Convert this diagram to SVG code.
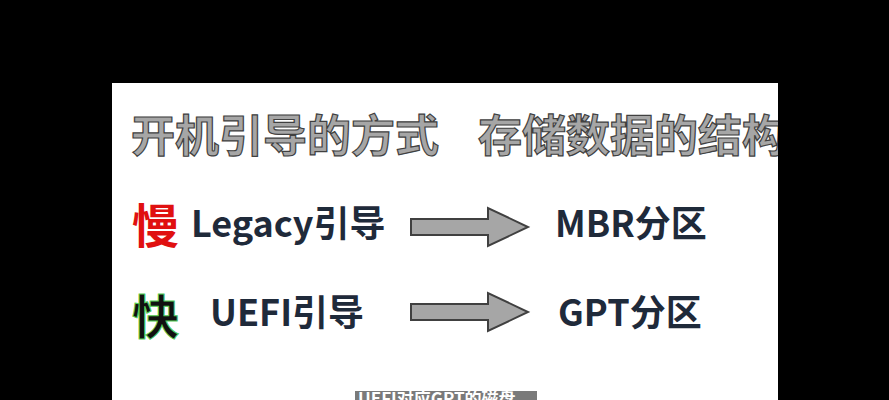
<svg xmlns="http://www.w3.org/2000/svg" width="889" height="400" viewBox="0 0 889 400">
<defs><style>
.t{font-family:"Noto Sans CJK SC","Noto Sans",sans-serif;font-weight:bold}
.title{fill:#a6a6a6;stroke:#404040;stroke-width:1.2;font-size:44px}
.lbl{fill:#1f2a3a;font-size:36px}
.arr{fill:#a6a6a6;stroke:#404040;stroke-width:2}
</style>
<clipPath id="panel"><rect x="112" y="83" width="666" height="317"/></clipPath></defs>
<rect width="889" height="400" fill="#000"/>
<rect x="112" y="83" width="666" height="317" fill="#fff"/>
<g id="title" clip-path="url(#panel)"><text class="t title" x="131" y="152">开机引导的方式</text><text class="t title" x="478" y="152">存储数据的结构</text></g>
<g id="slow"><text class="t" x="132" y="243" font-size="47" fill="#e01010">慢</text><text class="t lbl" x="191" y="237">Legacy引导</text></g>
<g id="mbr"><text class="t lbl" x="555" y="237">MBR分区</text></g>
<g id="fast"><text class="t" x="132" y="334" font-size="47" fill="#111" stroke="#5c5" stroke-width="1">快</text><text class="t lbl" x="210" y="326">UEFI引导</text></g>
<g id="gpt"><text class="t lbl" x="558" y="326">GPT分区</text></g>
<g id="connectors">
<path class="arr" d="M411,219 H488 V208 L528,227 L488,246 V235 H411 Z"/>
<path class="arr" d="M411,304 H488 V293 L528,312 L488,331 V320 H411 Z"/>
</g>
<g id="caption"><rect x="355" y="391" width="182" height="12" fill="#7a7a7a"/><text class="t" x="358" y="405" font-size="17" font-weight="normal" fill="#fff">UEFI对应GPT的磁盘</text></g>
</svg>
